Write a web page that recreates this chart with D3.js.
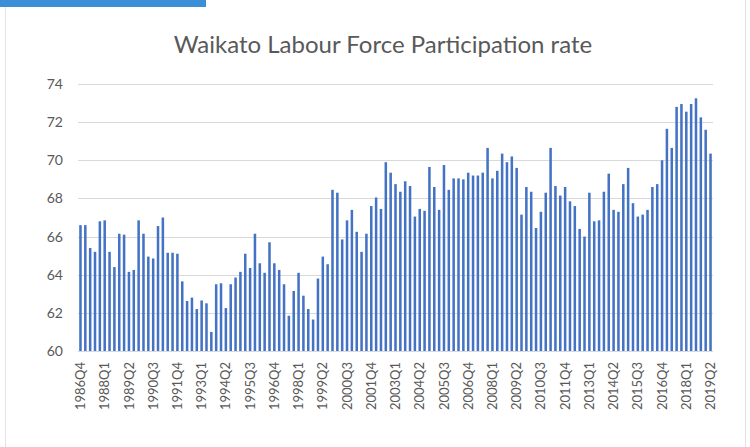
<!DOCTYPE html>
<html>
<head>
<meta charset="utf-8">
<script src="https://cdn.jsdelivr.net/npm/d3@7"></script>
<style>
  body { margin: 0; background: #fff; }
  svg { display: block; font-family: Lato, "Open Sans", sans-serif; }
</style>
</head>
<body>
<div id="chart"></div>
<script>
// svg container
var width = 750
var height = 447

// plot area
var margin = { top: 84, right: 37, bottom: 96, left: 78 };
var chartWidth = width - margin.left - margin.right;
var chartHeight = height - margin.top - margin.bottom;

// data: quarterly rate, 1986Q4 .. 2019Q2
var startYear = 1986, startQuarter = 4;
var rates = [
  66.6, 66.6, 65.4, 65.2, 66.8, 66.85, 65.2, 64.4, 66.15, 66.1,
  64.15, 64.25, 66.85, 66.15, 64.95, 64.85, 66.55, 67.0, 65.15, 65.15,
  65.1, 63.65, 62.62, 62.8, 62.2, 62.65, 62.5, 61.0, 63.5, 63.55,
  62.25, 63.5, 63.85, 64.15, 65.1, 64.35, 66.15, 64.6, 64.1, 65.7,
  64.6, 64.25, 63.5, 61.85, 63.15, 64.1, 62.9, 62.2, 61.65, 63.8,
  64.95, 64.55, 68.45, 68.3, 65.85, 66.85, 67.4, 66.25, 65.2, 66.15,
  67.6, 68.05, 67.45, 69.9, 69.35, 68.75, 68.35, 68.9, 68.65, 67.05,
  67.45, 67.35, 69.65, 68.6, 67.4, 69.75, 68.45, 69.05, 69.05, 69.0,
  69.35, 69.2, 69.2, 69.35, 70.65, 69.05, 69.45, 70.35, 69.9, 70.2,
  69.6, 67.15, 68.6, 68.35, 66.45, 67.3, 68.3, 70.65, 68.65, 68.15,
  68.6, 67.85, 67.6, 66.4, 66.0, 68.3, 66.8, 66.85, 68.35, 69.3,
  67.4, 67.3, 68.75, 69.6, 67.75, 67.05, 67.15, 67.4, 68.6, 68.75,
  70.0, 71.65, 70.65, 72.8, 72.95, 72.55, 72.95, 73.25, 72.25, 71.6,
  70.35
];
var tickLabels = [
  '1986Q4', '1988Q1', '1989Q2', '1990Q3', '1991Q4', '1993Q1', '1994Q2',
  '1995Q3', '1996Q4', '1998Q1', '1999Q2', '2000Q3', '2001Q4', '2003Q1',
  '2004Q2', '2005Q3', '2006Q4', '2008Q1', '2009Q2', '2010Q3', '2011Q4',
  '2013Q1', '2014Q2', '2015Q3', '2016Q4', '2018Q1', '2019Q2'
];
var yTicks = [60, 62, 64, 66, 68, 70, 72, 74];

// quarter names for each bar
var quarters = rates.map(function (r, i) {
  var q = startQuarter - 1 + i;
  return (startYear + Math.floor(q / 4)) + 'Q' + (q % 4 + 1);
});
var data = quarters.map(function (q, i) { return { quarter: q, rate: rates[i] }; });

var svg = d3.select('#chart').append('svg')
  .attr('width', width)
  .attr('height', height);

// page frame + blue tab
svg.append('rect')
  .attr('x', 5.5).attr('y', -1)
  .attr('width', 740).attr('height', height + 2)
  .attr('fill', 'none')
  .attr('stroke', '#e3e3e3');
svg.append('rect')
  .attr('x', 0).attr('y', 0)
  .attr('width', 206).attr('height', 7)
  .attr('fill', '#3a8fd6');

// title
svg.append('text')
  .attr('x', 383)
  .attr('y', 53)
  .attr('text-anchor', 'middle')
  .style('font-size', '24px')
  .style('fill', '#595959')
  .text('Waikato Labour Force Participation rate');

var chartGroup = svg.append('g')
  .attr('transform', `translate(${margin.left}, ${margin.top})`);

var xScale = d3.scaleBand()
  .domain(quarters)
  .range([0, chartWidth])
  .paddingInner(0.48)
  .paddingOuter(0.25);

var yScale = d3.scaleLinear()
  .domain([60, 74])
  .range([chartHeight, 0]);

// gridlines
chartGroup.append('g')
  .selectAll('line')
  .data(yTicks)
  .enter()
  .append('line')
  .attr('x1', 0)
  .attr('x2', chartWidth)
  .attr('y1', d => Math.round(yScale(d)) + 0.5)
  .attr('y2', d => Math.round(yScale(d)) + 0.5)
  .attr('stroke', '#d9d9d9')
  .attr('stroke-width', 1);

// bars
chartGroup.selectAll('rect.bar')
  .data(data)
  .enter()
  .append('rect')
  .attr('class', 'bar')
  .attr('x', d => xScale(d.quarter))
  .attr('width', xScale.bandwidth())
  .attr('y', d => yScale(d.rate))
  .attr('height', d => chartHeight - yScale(d.rate))
  .attr('fill', '#4472c4');

// y axis
var yAxis = d3.axisLeft(yScale).tickValues(yTicks).tickSize(0).tickPadding(15);
var yG = chartGroup.append('g').call(yAxis);
yG.select('.domain').remove();
yG.selectAll('text')
  .style('font-size', '14px')
  .style('fill', '#595959')
  .style('font-family', 'Lato, "Open Sans", sans-serif');

// x axis
var xAxis = d3.axisBottom(xScale).tickValues(tickLabels).tickSize(0);
var xG = chartGroup.append('g')
  .attr('transform', `translate(0, ${chartHeight})`)
  .call(xAxis);
xG.select('.domain').remove();
xG.selectAll('text')
  .attr('transform', 'rotate(-90)')
  .attr('x', -11)
  .attr('y', 0)
  .attr('dy', '0.35em')
  .style('text-anchor', 'end')
  .style('font-size', '13px')
  .style('fill', '#595959')
  .style('font-family', 'Lato, "Open Sans", sans-serif');
</script>
</body>
</html>
